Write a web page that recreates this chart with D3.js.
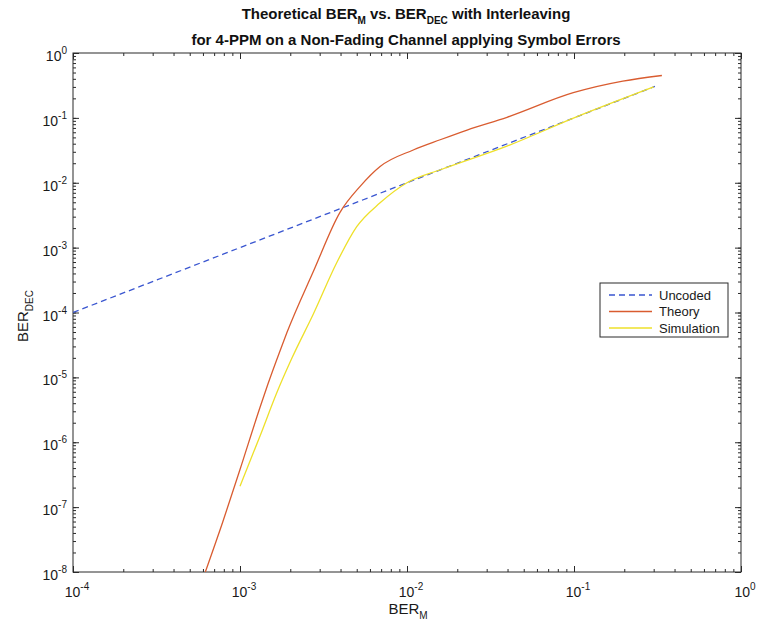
<!DOCTYPE html>
<html>
<head>
<meta charset="utf-8">
<script src="https://cdn.jsdelivr.net/npm/d3@7"></script>
<style>
  body { margin: 0; background: #fff; }
  svg { font-family: "Liberation Sans", Arial, sans-serif; }
</style>
</head>
<body>
<script>
// BER_M on x, BER_DEC on y
var uncodedX = [1e-4, 1e-3, 1e-2, 1e-1, 0.305];
var uncodedY = [1e-4, 1e-3, 1e-2, 1e-1, 0.305];

var theoryX = [6.2e-4, 7.9e-4, 1.0e-3, 1.32e-3, 1.47e-3, 1.74e-3, 1.91e-3, 2.74e-3, 3.97e-3, 5.24e-3, 6.9e-3, 1.09e-2, 1.58e-2, 2.29e-2, 3.97e-2, 9.9e-2, 0.196, 0.336];
var theoryY = [1.0e-8, 6.0e-8, 3.8e-7, 3.5e-6, 7.9e-6, 2.6e-5, 4.9e-5, 4.2e-4, 3.5e-3, 8.8e-3, 1.78e-2, 3.2e-2, 4.6e-2, 6.5e-2, 0.102, 0.244, 0.368, 0.45];

var simX = [1.0e-3, 1.32e-3, 1.67e-3, 2.05e-3, 2.74e-3, 3.8e-3, 5.0e-3, 6.9e-3, 1.0e-2, 1.6e-2, 4.0e-2, 0.1, 0.3];
var simY = [2.1e-7, 1.26e-6, 6.0e-6, 2.0e-5, 9.3e-5, 5.9e-4, 2.1e-3, 4.9e-3, 1.0e-2, 1.6e-2, 3.7e-2, 0.1, 0.3];

var xTickExp = [-4, -3, -2, -1, 0];
var yTickExp = [-8, -7, -6, -5, -4, -3, -2, -1, 0];

var seriesNames = ["Uncoded", "Theory", "Simulation"];
var seriesColors = ["#3a56d0", "#d95c30", "#eee02a"];

var W = 757, H = 630;
var box = { left: 73, right: 741, top: 53, bottom: 572 };

var svg = d3.select("body").append("svg")
    .attr("width", W)
    .attr("height", H);

var x = d3.scaleLog().domain([1e-4, 1]).range([box.left, box.right]);
var y = d3.scaleLog().domain([1e-8, 1]).range([box.bottom, box.top]);

var axisColor = "#2a2a2a";
var textColor = "#1a1a1a";

// ticks point inward, no labels from the axis itself
function styleAxis(g) {
  g.select(".domain").remove();
  g.selectAll("line").attr("stroke", axisColor);
  g.selectAll("text").remove();
}

function addTicks(xv, yv, len) {
  svg.append("g").attr("transform", "translate(0," + box.bottom + ")")
      .call(d3.axisBottom(x).tickValues(xv).tickSize(-len)).call(styleAxis);
  svg.append("g").attr("transform", "translate(0," + box.top + ")")
      .call(d3.axisTop(x).tickValues(xv).tickSize(-len)).call(styleAxis);
  svg.append("g").attr("transform", "translate(" + box.left + ",0)")
      .call(d3.axisLeft(y).tickValues(yv).tickSize(-len)).call(styleAxis);
  svg.append("g").attr("transform", "translate(" + box.right + ",0)")
      .call(d3.axisRight(y).tickValues(yv).tickSize(-len)).call(styleAxis);
}

var xMajor = xTickExp.map(function(e) { return Math.pow(10, e); });
var yMajor = yTickExp.map(function(e) { return Math.pow(10, e); });
addTicks(x.ticks(), y.ticks(), 3);
addTicks(xMajor, yMajor, 6);

// box
svg.append("rect")
    .attr("x", box.left).attr("y", box.top)
    .attr("width", box.right - box.left).attr("height", box.bottom - box.top)
    .attr("fill", "none").attr("stroke", axisColor).attr("stroke-width", 1);

// tick labels 10^n
function powLabel(sel, e) {
  sel.append("tspan").text("10");
  sel.append("tspan").attr("dy", -7).attr("font-size", 10).text(e);
}
xTickExp.forEach(function(e) {
  var t = svg.append("text")
      .attr("x", x(Math.pow(10, e)) + 4)
      .attr("y", box.bottom + 25)
      .attr("text-anchor", "middle")
      .attr("font-size", 14)
      .attr("fill", textColor);
  powLabel(t, e);
});
yTickExp.forEach(function(e) {
  var t = svg.append("text")
      .attr("x", box.left - 6)
      .attr("y", y(Math.pow(10, e)) + 8)
      .attr("text-anchor", "end")
      .attr("font-size", 14)
      .attr("fill", textColor);
  powLabel(t, e);
});

// axis labels
var xl = svg.append("text")
    .attr("x", 408).attr("y", 614)
    .attr("text-anchor", "middle").attr("font-size", 15).attr("fill", textColor);
xl.append("tspan").text("BER");
xl.append("tspan").attr("dy", 5).attr("font-size", 10).text("M");

var yl = svg.append("text")
    .attr("transform", "translate(28,316) rotate(-90)")
    .attr("text-anchor", "middle").attr("font-size", 15).attr("fill", textColor);
yl.append("tspan").text("BER");
yl.append("tspan").attr("dy", 5).attr("font-size", 10).text("DEC");

// title
var t1 = svg.append("text")
    .attr("x", 406).attr("y", 19)
    .attr("text-anchor", "middle").attr("font-size", 15)
    .attr("font-weight", "bold").attr("fill", "#111");
t1.append("tspan").text("Theoretical BER");
t1.append("tspan").attr("dy", 5).attr("font-size", 10).text("M");
t1.append("tspan").attr("dy", -5).text(" vs. BER");
t1.append("tspan").attr("dy", 5).attr("font-size", 10).text("DEC");
t1.append("tspan").attr("dy", -5).text(" with Interleaving");

svg.append("text")
    .attr("x", 406).attr("y", 45)
    .attr("text-anchor", "middle").attr("font-size", 15)
    .attr("font-weight", "bold").attr("fill", "#111")
    .text("for 4-PPM on a Non-Fading Channel applying Symbol Errors");

// curves
svg.append("clipPath").attr("id", "plotclip")
  .append("rect").attr("x", box.left).attr("y", box.top)
    .attr("width", box.right - box.left).attr("height", box.bottom - box.top);

var line = d3.line()
    .x(function(d) { return x(d[0]); })
    .y(function(d) { return y(d[1]); })
    .curve(d3.curveMonotoneX);

var series = [
  d3.zip(uncodedX, uncodedY),
  d3.zip(theoryX, theoryY),
  d3.zip(simX, simY)
];

var plot = svg.append("g").attr("clip-path", "url(#plotclip)");
series.forEach(function(s, i) {
  plot.append("path")
      .datum(s)
      .attr("d", line)
      .attr("fill", "none")
      .attr("stroke", seriesColors[i])
      .attr("stroke-width", 1.3)
      .attr("stroke-dasharray", i === 0 ? "6,4" : null);
});

// legend
var lg = svg.append("g");
lg.append("rect")
    .attr("x", 600).attr("y", 283)
    .attr("width", 128).attr("height", 54)
    .attr("fill", "#fff").attr("stroke", axisColor).attr("stroke-width", 1);
seriesNames.forEach(function(label, i) {
  var yy = 295 + i * 16.5;
  lg.append("line")
      .attr("x1", 609).attr("x2", 652)
      .attr("y1", yy).attr("y2", yy)
      .attr("stroke", seriesColors[i]).attr("stroke-width", 1.3)
      .attr("stroke-dasharray", i === 0 ? "6,4" : null);
  lg.append("text")
      .attr("x", 659).attr("y", yy + 4.5)
      .attr("font-size", 13).attr("fill", textColor)
      .text(label);
});
</script>
</body>
</html>
